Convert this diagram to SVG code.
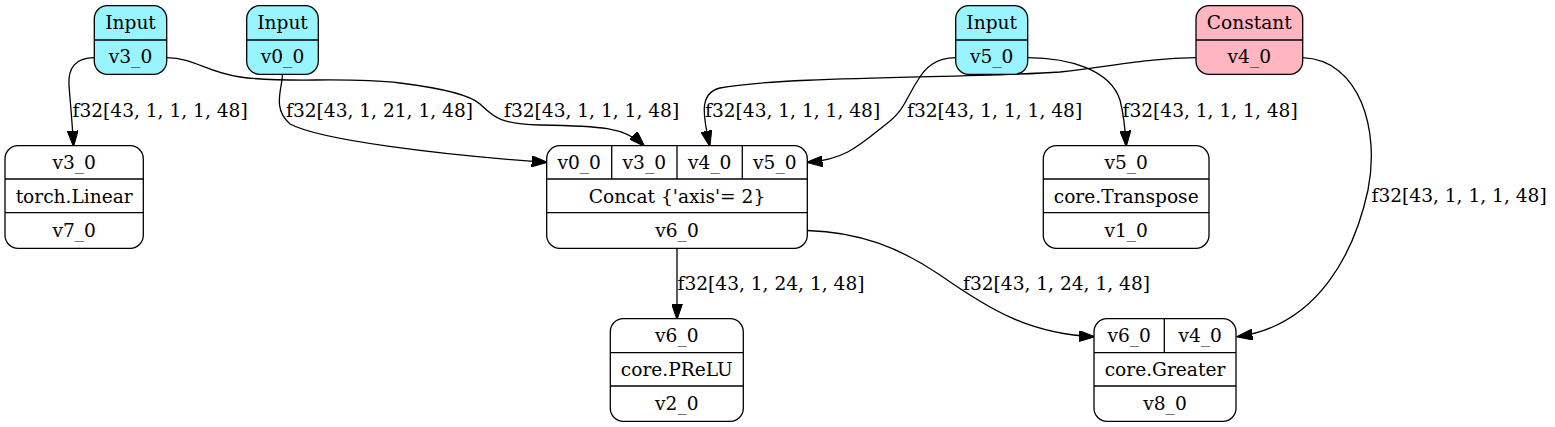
<svg xmlns="http://www.w3.org/2000/svg" width="1555" height="427" viewBox="0 0 1555 427">
<style>
text{font-family:"DejaVu Serif",serif;font-size:18.6px;fill:#000;text-anchor:middle}
text.lbl{text-anchor:start}
.box{stroke:#000;stroke-width:1.3}
.in{fill:#98F5FF}
.cst{fill:#FFB6C1}
.op{fill:#fff}
.div{stroke:#000;stroke-width:1.3;fill:none}
.edge{fill:none;stroke:#000;stroke-width:1.3;marker-end:url(#arr)}
</style>
<defs>
<marker id="arr" viewBox="0 0 16 11" refX="15" refY="5.5" markerWidth="16" markerHeight="11" markerUnits="userSpaceOnUse" orient="auto">
<path d="M0,0 L16,5.5 L0,11 z" fill="#000" stroke="#000" stroke-width="1"/>
</marker>
</defs>
<rect width="1555" height="427" fill="#fff"/>

<g id="connectors">
<path class="edge" d="M94.3,57.7 C75,58 68,68 69,85 C70,100 72,118 73.5,145.7"/>
<text class="lbl" x="72.5" y="116.5">f32[43, 1, 1, 1, 48]</text>
<path class="edge" d="M166.7,57.7 C195,58 205,72 240,77 C290,84 340,76 400,83 C440,88 470,95 480,104 C495,118 500,124 540,125 C600,126 625,127 644,145.7"/>
<text class="lbl" x="504" y="116.5">f32[43, 1, 1, 1, 48]</text>
<path class="edge" d="M282.5,74.3 C282,90 272,108 290,124 C320,140 440,155 546.7,162.3"/>
<text class="lbl" x="286" y="116.5">f32[43, 1, 21, 1, 48]</text>
<path class="edge" d="M1196,57.7 C1150,58 1120,65 1060,72 C980,78 780,76 720,88 C700,93 702,112 709.7,145.7"/>
<text class="lbl" x="705" y="116.5">f32[43, 1, 1, 1, 48]</text>
<path class="edge" d="M955.7,57.7 C935,58 925,68 918,80 C905,100 905,110 885,125 C860,145 845,160 807.5,162.3"/>
<text class="lbl" x="907" y="116.5">f32[43, 1, 1, 1, 48]</text>
<path class="edge" d="M1027.7,57.7 C1070,58 1110,70 1120,100 C1123,112 1125,125 1126.2,145.7"/>
<text class="lbl" x="1122.5" y="116.5">f32[43, 1, 1, 1, 48]</text>
<path class="edge" d="M1302.7,57.7 C1360,60 1380,130 1368,190 C1355,250 1320,325 1237.5,336.7"/>
<text class="lbl" x="1371.5" y="201.5">f32[43, 1, 1, 1, 48]</text>
<path class="edge" d="M677,248.3 L677,318.7"/>
<text class="lbl" x="677.5" y="290">f32[43, 1, 24, 1, 48]</text>
<path class="edge" d="M807.3,230.5 C860,232 900,248 940,275 C990,310 1030,334 1094,336.7"/>
<text class="lbl" x="963" y="290">f32[43, 1, 24, 1, 48]</text>
</g>

<g id="in_v3_0">
<rect class="box in" x="94.3" y="5.7" width="72.4" height="68.6" rx="13"/>
<line class="div" x1="94.3" y1="40" x2="166.7" y2="40"/>
<text x="130.5" y="29">Input</text>
<text x="130.5" y="63">v3_0</text>
</g>
<g id="in_v0_0">
<rect class="box in" x="246.7" y="5.7" width="71.6" height="68.6" rx="13"/>
<line class="div" x1="246.7" y1="40" x2="318.3" y2="40"/>
<text x="282.5" y="29">Input</text>
<text x="282.5" y="63">v0_0</text>
</g>
<g id="in_v5_0">
<rect class="box in" x="955.7" y="5.7" width="72" height="68.6" rx="13"/>
<line class="div" x1="955.7" y1="40" x2="1027.7" y2="40"/>
<text x="991.7" y="29">Input</text>
<text x="991.7" y="63">v5_0</text>
</g>
<g id="const_v4_0">
<rect class="box cst" x="1196" y="5.7" width="106.7" height="68.6" rx="13"/>
<line class="div" x1="1196" y1="40" x2="1302.7" y2="40"/>
<text x="1249.3" y="29">Constant</text>
<text x="1249.3" y="63">v4_0</text>
</g>

<g id="linear_v7_0">
<rect class="box op" x="5" y="145.7" width="138.3" height="102.6" rx="13"/>
<line class="div" x1="5" y1="179" x2="143.3" y2="179"/>
<line class="div" x1="5" y1="212.7" x2="143.3" y2="212.7"/>
<text x="74.2" y="169">v3_0</text>
<text x="74.2" y="202.5">torch.Linear</text>
<text x="74.2" y="236.5">v7_0</text>
</g>

<g id="concat_v6_0">
<rect class="box op" x="546.7" y="145.7" width="260.6" height="102.6" rx="13"/>
<line class="div" x1="546.7" y1="179" x2="807.3" y2="179"/>
<line class="div" x1="546.7" y1="212.7" x2="807.3" y2="212.7"/>
<line class="div" x1="611.7" y1="145.7" x2="611.7" y2="179"/>
<line class="div" x1="677" y1="145.7" x2="677" y2="179"/>
<line class="div" x1="742.3" y1="145.7" x2="742.3" y2="179"/>
<text x="579.2" y="169">v0_0</text>
<text x="644.3" y="169">v3_0</text>
<text x="709.7" y="169">v4_0</text>
<text x="774.8" y="169">v5_0</text>
<text x="677" y="202.5">Concat {'axis'= 2}</text>
<text x="677" y="236.5">v6_0</text>
</g>

<g id="transpose_v1_0">
<rect class="box op" x="1043.3" y="145.7" width="165.7" height="102.6" rx="13"/>
<line class="div" x1="1043.3" y1="179" x2="1209" y2="179"/>
<line class="div" x1="1043.3" y1="212.7" x2="1209" y2="212.7"/>
<text x="1126.2" y="169">v5_0</text>
<text x="1126.2" y="202.5">core.Transpose</text>
<text x="1126.2" y="236.5">v1_0</text>
</g>

<g id="prelu_v2_0">
<rect class="box op" x="610.3" y="318.7" width="133" height="102.6" rx="13"/>
<line class="div" x1="610.3" y1="352.7" x2="743.3" y2="352.7"/>
<line class="div" x1="610.3" y1="386" x2="743.3" y2="386"/>
<text x="676.8" y="342">v6_0</text>
<text x="676.8" y="375.5">core.PReLU</text>
<text x="676.8" y="409.5">v2_0</text>
</g>

<g id="greater_v8_0">
<rect class="box op" x="1094" y="318.7" width="142" height="102.6" rx="13"/>
<line class="div" x1="1094" y1="352.7" x2="1236" y2="352.7"/>
<line class="div" x1="1094" y1="386" x2="1236" y2="386"/>
<line class="div" x1="1164.3" y1="318.7" x2="1164.3" y2="352.7"/>
<text x="1129.2" y="342">v6_0</text>
<text x="1200.2" y="342">v4_0</text>
<text x="1165" y="375.5">core.Greater</text>
<text x="1165" y="409.5">v8_0</text>
</g>
</svg>
